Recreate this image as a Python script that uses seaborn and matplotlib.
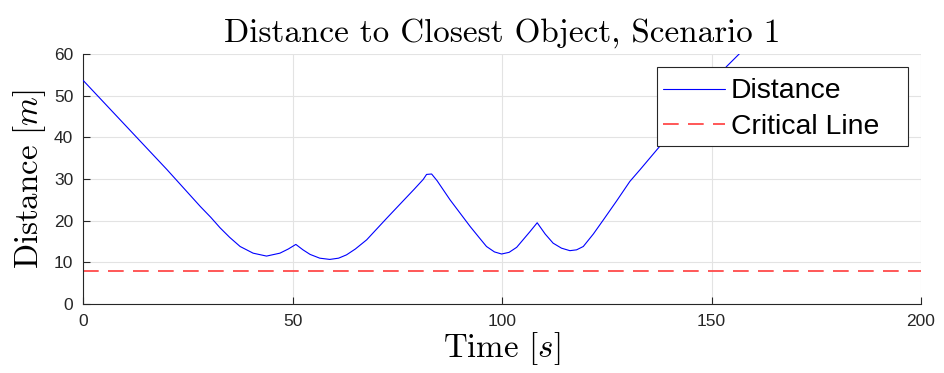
import numpy as np
import pandas as pd
import matplotlib
matplotlib.use("Agg")
import matplotlib.pyplot as plt
from matplotlib.patches import Rectangle
import seaborn as sns

# ---- data ----
time_s = [0, 10, 20, 28, 30.5, 32.7, 35, 37.5, 40.6, 43.8, 47.0, 49, 50.8,
          52.5, 54.2, 56.5, 58.9, 61, 62.9, 65, 67.7, 72.5, 75.7, 79, 81.2,
          82.0, 83.2, 84.5, 87.6, 92.4, 94.5, 96.3, 98.2, 99.9, 101.7, 103.5,
          106.7, 108.4, 110.3, 112.2, 114.2, 116.2, 117.8, 119.4, 121.8, 124.2,
          127.4, 130.5, 133.0, 137.7, 145, 153.6, 156.8, 160]
distance_m = [53.7, 43.0, 32.3, 23.4, 20.8, 18.3, 16.0, 13.8, 12.2, 11.5, 12.2,
              13.2, 14.3, 13.0, 11.9, 11.0, 10.7, 11.0, 11.8, 13.2, 15.4, 20.6,
              24.0, 27.5, 29.9, 31.1, 31.2, 29.6, 25.0, 18.6, 16.0, 13.8, 12.5,
              12.0, 12.4, 13.6, 17.4, 19.5, 16.8, 14.6, 13.4, 12.8, 13.0, 13.8,
              16.8, 20.2, 24.8, 29.4, 32.3, 37.9, 46.6, 57.0, 60.2, 64.3]
critical_time = [0, 200]
critical_value = [8, 8]

title = "Distance to Closest Object, Scenario 1"
xlabel = r"Time $[s]$"
ylabel = r"Distance $[m]$"
xticks = [0, 50, 100, 150, 200]
yticks = [0, 10, 20, 30, 40, 50, 60]

sns.set_theme(style="whitegrid")
plt.rcParams["font.family"] = ["Liberation Sans", "DejaVu Sans"]
plt.rcParams["mathtext.fontset"] = "cm"
plt.rcParams["lines.scale_dashes"] = False

fig = plt.figure(figsize=(9.44, 3.73), dpi=100)
ax = fig.add_axes([83 / 944, 1 - 304 / 373, 838 / 944, 250 / 373])

df_dist = pd.DataFrame({"t": time_s, "d": distance_m})
df_crit = pd.DataFrame({"t": critical_time, "d": critical_value})

sns.lineplot(data=df_dist, x="t", y="d", ax=ax, color="#0000ff", linewidth=0.8,
             label="Distance", sort=False, zorder=3)
sns.lineplot(data=df_crit, x="t", y="d", ax=ax, color="#ff4a4a", linewidth=1.3,
             label="Critical Line", zorder=2)
ax.lines[1].set_dashes([11.3, 6.7])

ax.set_xlim(0, 200)
ax.set_ylim(0, 60)
ax.set_xticks(xticks)
ax.set_yticks(yticks)
ax.set_facecolor("white")
ax.grid(True, color="#e3e3e3", linewidth=0.8)
ax.set_axisbelow(True)

for side in ["top", "right"]:
    ax.spines[side].set_visible(False)
for side in ["left", "bottom"]:
    ax.spines[side].set_visible(True)
    ax.spines[side].set_color("#262626")
    ax.spines[side].set_linewidth(0.8)

ax.tick_params(axis="both", which="both", direction="in", length=5, width=0.8,
               color="#262626", labelsize=12.5, labelcolor="#262626", pad=7,
               left=True, bottom=True)

ax.set_title(title, fontfamily="cmr10", fontsize=23.8, pad=9, color="black")
ax.set_xlabel(xlabel, fontfamily="cmr10", fontsize=23.7, labelpad=1, color="black")
ax.set_ylabel(ylabel, fontfamily="cmr10", fontsize=23.7, labelpad=4, color="black")

# legend box (MATLAB style, wider on the right)
box = Rectangle(((657 - 83) / 838, (304 - 146) / 250), 251 / 838, 79 / 250,
                transform=ax.transAxes, facecolor="white", edgecolor="#262626",
                linewidth=0.8, zorder=4.5, clip_on=False)
ax.add_patch(box)
leg = ax.legend(loc="upper left", bbox_to_anchor=((662.7 - 83) / 838, 0.902),
                borderaxespad=0, fontsize=20.4, frameon=False,
                handlelength=2.2, handletextpad=0.2, labelspacing=0.32,
                borderpad=0, labelcolor="black")
leg.set_zorder(5)

fig.savefig("out.png", dpi=100)
